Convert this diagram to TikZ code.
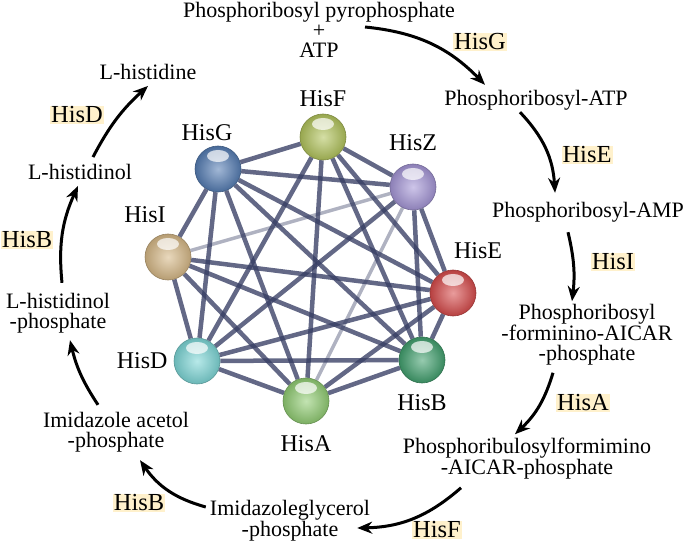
\documentclass[tikz,border=0pt]{standalone}
\usepackage{fontspec}
\setmainfont{Liberation Serif}
\usetikzlibrary{positioning,arrows.meta,backgrounds}
\definecolor{hl}{RGB}{255,241,204}
\definecolor{ln}{RGB}{55,62,100}
\definecolor{cF}{RGB}{178,196,92}
\definecolor{cG}{RGB}{85,125,180}
\definecolor{cZ}{RGB}{165,150,215}
\definecolor{cI}{RGB}{215,185,135}
\definecolor{cE}{RGB}{215,75,75}
\definecolor{cD}{RGB}{125,215,215}
\definecolor{cB}{RGB}{65,160,110}
\definecolor{cA}{RGB}{145,205,115}

\begin{document}
\begin{tikzpicture}[
    x=1pt, y=1pt,
    met/.style={
        align=center, inner sep=1pt,
        font=\fontsize{22}{20}\selectfont
    },
    enz/.style={
        fill=hl, inner sep=1pt,
        font=\fontsize{24.5}{26}\selectfont
    },
    prot/.style={
        circle, minimum size=46pt, inner sep=0pt,
        inner color=#1!55!white, outer color=#1!85!black,
        draw=#1!70!black, line width=0.6pt,
        path picture={\fill [white, opacity=0.7]
            ([yshift=13pt]path picture bounding box.center)
            ellipse [x radius=11pt, y radius=6pt];}
    },
    lbl/.style={inner sep=1pt, font=\fontsize{24}{26}\selectfont},
    link/.style={line width=4.5pt, color=ln, opacity=0.78},
    faint/.style={line width=3.5pt, color=ln, opacity=0.4},
    rx/.style={line width=3pt, -{Stealth[length=15pt,width=12pt]}}
]

\useasboundingbox (0,0) rectangle (685,-545);

\node [prot=cF] (F) at (323,-137) {};
\node [prot=cG] (G) at (218,-169) {};
\node [prot=cZ] (Z) at (413,-187) {};
\node [prot=cI] (I) at (168,-257) {};
\node [prot=cE] (E) at (453,-293) {};
\node [prot=cD] (D) at (197,-361) {};
\node [prot=cB] (B) at (422,-360) {};
\node [prot=cA] (A) at (306,-401) {};

\node [lbl, above=6pt of F] (Fl) {HisF};
\node [lbl, above=4pt of G, xshift=-11pt] (Gl) {HisG};
\node [lbl, above=12pt of Z] (Zl) {HisZ};
\node [lbl, above=10pt of I, xshift=-23pt] (Il) {HisI};
\node [lbl, above=10pt of E, xshift=25pt] (El) {HisE};
\node [lbl, left=5pt of D] (Dl) {HisD};
\node [lbl, below=10pt of B] (Bl) {HisB};
\node [lbl, below=10pt of A] (Al) {HisA};

\begin{scope}[on background layer]
\foreach \s/\t in {G/F,G/Z,G/E,G/B,G/A,G/D,G/I,F/Z,F/E,F/B,F/A,F/D,
                   Z/E,Z/B,Z/D,I/E,I/B,I/A,I/D,E/B,E/A,E/D,D/B,D/A,A/B}
    \draw [link] (\s) -- (\t);
\draw [faint] (Z) -- (I);
\draw [faint] (Z) -- (A);
\end{scope}

\node [met] (prpp) at (319,-30) {Phosphoribosyl pyrophosphate\\+\\ATP};
\node [met] (patp) at (536,-100) {Phosphoribosyl-ATP};
\node [met] (pamp) at (588,-212) {Phosphoribosyl-AMP};
\node [met] (prfar) at (587,-335) {Phosphoribosyl\\-forminino-AICAR\\-phosphate};
\node [met] (prfar2) at (527,-459) {Phosphoribulosylformimino\\-AICAR-phosphate};
\node [met] (igp) at (290,-521) {Imidazoleglycerol\\-phosphate};
\node [met] (iap) at (116,-432) {Imidazole acetol\\-phosphate};
\node [met] (hlp) at (58,-313) {L-histidinol\\-phosphate};
\node [met] (hol) at (80,-172) {L-histidinol};
\node [met] (his) at (148,-72) {L-histidine};

\node [enz] (eG) at (480,-42) {HisG};
\node [enz] (eE) at (587,-155) {HisE};
\node [enz] (eI) at (613,-262) {HisI};
\node [enz] (eA) at (583,-403) {HisA};
\node [enz] (eF) at (437,-530) {HisF};
\node [enz] (eB1) at (139,-503) {HisB};
\node [enz] (eB2) at (27,-240) {HisB};
\node [enz] (eD) at (77,-115) {HisD};

\draw [rx] ([xshift=46pt,yshift=3pt]prpp.center) to [bend left=20] ([xshift=-51pt,yshift=4pt]patp.north);
\draw [rx] ([xshift=-16pt,yshift=-1pt]patp.south) to [bend left=20] ([xshift=-33pt,yshift=8pt]pamp.north);
\draw [rx] ([xshift=-20pt,yshift=-9pt]pamp.south) to [bend left=10] ([xshift=-15pt,yshift=2pt]prfar.north);
\draw [rx] ([xshift=-34pt,yshift=-6pt]prfar.south) to [bend left=15] ([xshift=-12pt,yshift=3pt]prfar2.north);
\draw [rx] ([xshift=-66pt,yshift=-7pt]prfar2.south) to [bend left=20] ([xshift=-14pt,yshift=-7pt]igp.east);
\draw [rx] ([xshift=-3pt,yshift=14pt]igp.west) to [bend left=20] ([xshift=24pt,yshift=-7pt]iap.south);
\draw [rx] ([xshift=-18pt,yshift=6pt]iap.north) to [bend left=10] ([xshift=12pt,yshift=-6pt]hlp.south);
\draw [rx] ([xshift=4pt,yshift=9pt]hlp.north) to [bend left=15] ([xshift=-2pt,yshift=-5pt]hol.south);
\draw [rx] ([xshift=13pt,yshift=6pt]hol.north) to [bend left=10] ([yshift=-5pt]his.south);

\end{tikzpicture}
\end{document}
